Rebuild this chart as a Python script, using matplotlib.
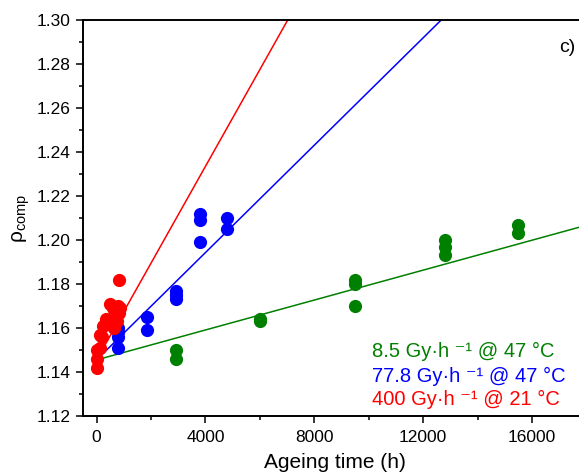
import matplotlib
matplotlib.use("Agg")
import matplotlib.pyplot as plt
import numpy as np
from matplotlib.ticker import MultipleLocator

# 8.5 Gy/h @ 47 C
green_t = [2900, 2900, 6000, 6000, 9500, 9500, 9500, 12800, 12800, 12800, 15500, 15500]
green_rho = [1.146, 1.150, 1.163, 1.164, 1.170, 1.180, 1.182, 1.193, 1.197, 1.200, 1.203, 1.207]

# 77.8 Gy/h @ 47 C
blue_t = [800, 800, 800, 800, 1850, 1850, 2900, 2900, 2900, 3800, 3800, 3800, 4800, 4800]
blue_rho = [1.151, 1.156, 1.158, 1.160, 1.159, 1.165, 1.173, 1.175, 1.177, 1.199, 1.209, 1.212,
            1.205, 1.210]

# 400 Gy/h @ 21 C
red_t = [0, 0, 0, 120, 120, 200, 250, 340, 400, 490, 560, 600, 650, 680, 750, 800, 820, 820, 860]
red_rho = [1.142, 1.146, 1.150, 1.151, 1.157, 1.156, 1.161, 1.164, 1.162, 1.171, 1.164, 1.169,
           1.160, 1.167, 1.163, 1.170, 1.182, 1.167, 1.169]

# linear fits, common intercept
fit_intercept = 1.1455
fit_slopes = {"green": 3.4e-6, "blue": 1.22e-5, "red": 2.2e-5}

labels = {
    "green": "8.5 Gy·h ⁻¹ @ 47 °C",
    "blue": "77.8 Gy·h ⁻¹ @ 47 °C",
    "red": "400 Gy·h ⁻¹ @ 21 °C",
}
colors = {"green": "#008000", "blue": "#0000ff", "red": "#ff0000"}

plt.rcParams["font.family"] = ["Liberation Sans", "DejaVu Sans"]
plt.rcParams["mathtext.fontset"] = "custom"
plt.rcParams["mathtext.rm"] = "Liberation Sans"
plt.rcParams["mathtext.it"] = "Liberation Sans:italic"
plt.rcParams["mathtext.default"] = "regular"

fig = plt.figure(figsize=(5.79, 4.74), dpi=100)
ax = fig.add_axes([0.1434, 0.1224, 0.8694, 0.8354])

t_fit = np.array([0, 20000])
for key in ["green", "blue", "red"]:
    ax.plot(t_fit, fit_intercept + fit_slopes[key] * t_fit, color=colors[key], lw=1.1, zorder=2)

ax.plot(green_t, green_rho, "o", color=colors["green"], ms=9.5, mec="none", zorder=3)
ax.plot(blue_t, blue_rho, "o", color=colors["blue"], ms=9.5, mec="none", zorder=3)
ax.plot(red_t, red_rho, "o", color=colors["red"], ms=9.5, mec="none", zorder=3)

ax.set_xlim(-500, 18000)
ax.set_ylim(1.12, 1.30)
ax.xaxis.set_major_locator(MultipleLocator(4000))
ax.xaxis.set_minor_locator(MultipleLocator(2000))
ax.yaxis.set_major_locator(MultipleLocator(0.02))
ax.yaxis.set_minor_locator(MultipleLocator(0.01))
ax.yaxis.set_major_formatter(plt.FormatStrFormatter("%.2f"))
ax.tick_params(which="major", direction="out", length=5, width=1.1, labelsize=12.5, pad=4)
ax.tick_params(which="minor", direction="out", length=3, width=1.1)
ax.tick_params(axis="x", which="major", pad=5)
for side in ["left", "bottom", "top", "right"]:
    ax.spines[side].set_linewidth(1.4)

ax.set_xlabel("Ageing time (h)", fontsize=15, labelpad=6)
ax.set_ylabel("ρ$_{comp}$", fontsize=15, labelpad=3)

ax.text(0.945, 0.93, "c)", transform=ax.transAxes, fontsize=14, ha="left", va="center")

for key, ypos in zip(["green", "blue", "red"], [0.148, 0.0866, 0.0278]):
    ax.text(0.574, ypos, labels[key], transform=ax.transAxes, fontsize=14.5,
            color=colors[key], ha="left", va="baseline")

fig.savefig("out.png", dpi=100)
plt.close(fig)
